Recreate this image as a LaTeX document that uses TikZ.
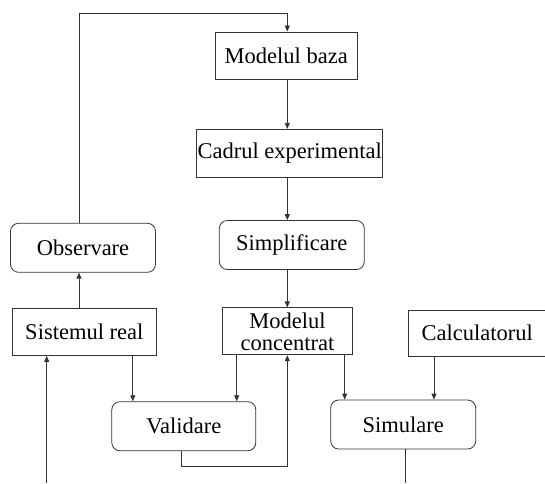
\documentclass[tikz,border=0pt]{standalone}
\usepackage{fontspec}
\setmainfont{Liberation Serif}
\usetikzlibrary{arrows.meta}
\begin{document}
\begin{tikzpicture}[x=1pt,y=-1pt,
  line/.style={draw=black!80,line width=0.8pt},
  arr/.style={line,-{Triangle[length=6pt,width=5pt]}},
  box/.style={line,rectangle,inner sep=0pt,align=center,
    font=\fontsize{22.5}{22}\selectfont},
  rbox/.style={box,rounded corners=8pt}]
\clip (0,0) rectangle (545,483);
\fill[white] (0,0) rectangle (545,483);

% blocks
\node[box,minimum width=142pt,minimum height=47pt]  (mb)   at (286.2,55.4)  {Modelul baza};
\node[box,minimum width=186pt,minimum height=48pt]  (ce)   at (289.7,153.3) {Cadrul experimental};
\node[rbox,minimum width=145pt,minimum height=49pt] (simp) at (291.8,245)   {Simplificare};
\node[rbox,minimum width=145pt,minimum height=49pt] (obs)  at (83,247.8)    {Observare};
\node[box,minimum width=144pt,minimum height=47pt]  (sr)   at (84.3,332)    {Sistemul real};
\node[box,minimum width=130pt,minimum height=47pt]  (mc)   at (287.5,331.3) {Modelul\\concentrat};
\node[box,minimum width=150pt,minimum height=46pt,text width=150pt,align=left] (calc) at (483.7,333)
  {\hspace*{13pt}Calculatorul};
\node[rbox,minimum width=144pt,minimum height=49pt] (val)  at (183.8,426.2) {Validare};
\node[rbox,minimum width=145pt,minimum height=49pt] (sim)  at (403.2,424.5) {Simulare};

% column positions of the connectors
\coordinate (xc) at (287.3,0);
\coordinate (xo) at (79,13);
\coordinate (xin) at (46.7,483);
\coordinate (xa) at (132.8,0);
\coordinate (xb) at (236.7,0);
\coordinate (xv) at (181,466);
\coordinate (xd) at (344.7,0);
\coordinate (xe) at (434,0);
\coordinate (xout) at (405.7,483);

% main chain
\draw[arr] (xo |- obs.north) -- (xo) -| (xc |- mb.north);
\draw[arr] (xc |- mb.south) -- (xc |- ce.north);
\draw[arr] (xc |- ce.south) -- (xc |- simp.north);
\draw[arr] (xc |- simp.south) -- (xc |- mc.north);

% real system and observation
\draw[arr] (xin) -- (xin |- sr.south);
\draw[arr] (xo |- sr.north) -- (xo |- obs.south);

% validation
\draw[arr] (xa |- sr.south) -- (xa |- val.north);
\draw[arr] (xb |- mc.south) -- (xb |- val.north);
\draw[arr] (xv |- val.south) -- (xv) -| (xc |- mc.south);

% simulation
\draw[arr] (xd |- mc.south) -- (xd |- sim.north);
\draw[arr] (xe |- calc.south) -- (xe |- sim.north);
\draw[line] (xout |- sim.south) -- (xout);
\end{tikzpicture}
\end{document}
